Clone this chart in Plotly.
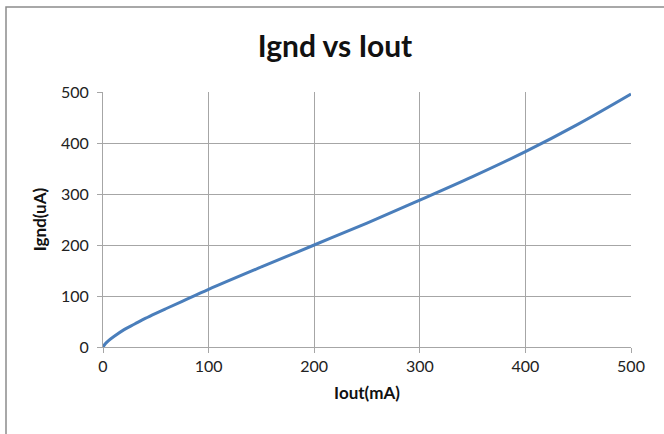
import plotly.graph_objects as go

iout = [0, 2, 5, 10, 20, 30, 40, 50, 60, 75, 100, 150, 200, 250, 300, 350, 400, 450, 500]
ignd = [0, 6, 12, 20, 34, 45, 56, 66, 75.5, 89.5, 113, 157, 200, 243, 288, 334, 383, 437, 496]
x_ticks = [0, 100, 200, 300, 400, 500]
y_ticks = [0, 100, 200, 300, 400, 500]

fig = go.Figure()
fig.add_trace(go.Scatter(x=iout, y=ignd, mode="lines",
                         line=dict(color="#4a7ebb", width=3, shape="spline", smoothing=1.0),
                         showlegend=False, hoverinfo="skip"))

font = "Lato, Noto Sans, sans-serif"
W, H = 664, 434
L, T = 103, 92
PW, PH = 528, 255
fig.update_layout(
    width=W, height=H,
    margin=dict(l=L, r=W - L - PW, t=T, b=H - T - PH),
    paper_bgcolor="white", plot_bgcolor="white",
    font=dict(family=font, size=16, color="#222"),
    title=dict(text="<b>Ignd vs Iout</b>", x=335 / W, xanchor="center",
               y=1 - 46 / H, yanchor="middle",
               font=dict(family=font, size=30, color="#111")),
    xaxis=dict(range=[0, 500], tickvals=x_ticks, showgrid=True, gridcolor="#a6a6a6", gridwidth=1,
               showline=True, linecolor="#a6a6a6", ticks="outside", ticklen=5, tickcolor="#a6a6a6",
               zeroline=False, fixedrange=True,
               title=dict(text="<b>Iout(mA)</b>", font=dict(family=font, size=17, color="#111"), standoff=12)),
    yaxis=dict(range=[0, 500], tickvals=y_ticks, showgrid=True, gridcolor="#a6a6a6", gridwidth=1,
               showline=True, linecolor="#a6a6a6", ticks="outside", ticklen=5, tickcolor="#a6a6a6",
               zeroline=False, fixedrange=True, ticklabelstandoff=5,
               title=dict(text="<b>Ignd(uA)</b>", font=dict(family=font, size=17, color="#111"), standoff=10)),
    shapes=[dict(type="rect", xref="paper", yref="paper",
                 x0=(6 - L) / PW, x1=(W + 10 - L) / PW,
                 y0=-(H + 10 - T - PH) / PH, y1=(T + PH - 7) / PH,
                 line=dict(color="#8c8c8c", width=1.5), layer="below")],
)

fig.write_html("out.html", config={"displayModeBar": False, "staticPlot": True},
               post_script="document.body.style.margin='0';document.body.style.overflow='hidden';")
